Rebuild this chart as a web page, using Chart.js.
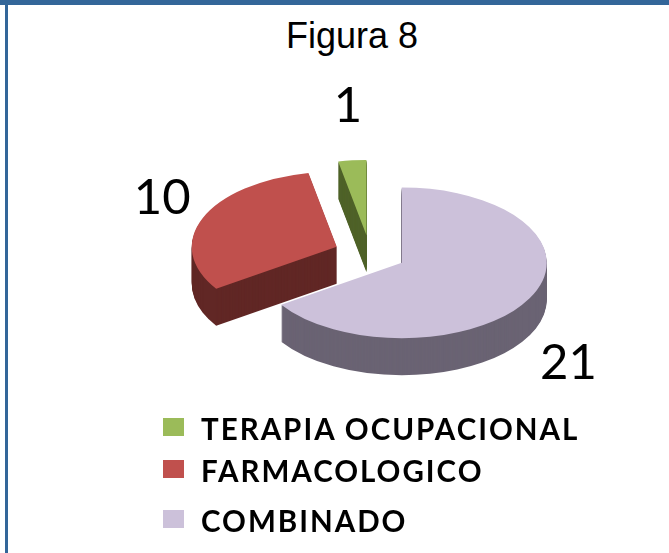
<!DOCTYPE html>
<html>
<head>
<meta charset="utf-8">
<title>Figura 8</title>
<script src="https://cdn.jsdelivr.net/npm/chart.js@4/dist/chart.umd.min.js"></script>
<style>
  html, body { margin: 0; padding: 0; background: #fff; overflow: hidden; }
  #page { position: relative; width: 669px; height: 553px; background: #fff; }
  .bar-top { position: absolute; left: 0; top: 0; width: 669px; height: 5px; background: #336699; }
  .bar-left { position: absolute; left: 5px; top: 0; width: 3px; height: 553px; background: #336699; }
  #title {
    position: absolute; left: 252px; top: 18px; width: 200px;
    text-align: center; font: 36px/36px "Liberation Sans", Arial, sans-serif; color: #000;
  }
  #chart { position: absolute; left: 0; top: 0; }
  #legend { position: absolute; left: 163px; top: 408px; }
  .row { position: relative; height: 42px; font: bold 29.5px/42px Lato, sans-serif; letter-spacing: 2px; color: #000; white-space: nowrap; }
  .row:nth-child(3) { margin-top: 8px; }
  .swatch { position: absolute; left: 0; top: 10px; width: 21px; height: 18px; }
  .text { position: absolute; left: 38px; top: 0; }
</style>
</head>
<body>
<div id="page">
  <div class="bar-top"></div>
  <div class="bar-left"></div>
  <div id="title">Figura 8</div>
  <canvas id="chart" width="669" height="553"></canvas>
  <div id="legend"></div>
</div>
<script>
(function () {
    'use strict';

    // Legend order, as in the figure.
    var categories = ['TERAPIA OCUPACIONAL', 'FARMACOLOGICO', 'COMBINADO'];
    var values = [1, 10, 21];
    var topColors = ['#9BBB59', '#C0504D', '#CCC1DA'];
    var sideColors = ['#4F6228', '#612725', '#6A6373'];

    // Pie is drawn clockwise from the top: COMBINADO first.
    var pieLabels = categories.slice().reverse();
    var pieValues = values.slice().reverse();
    var pieTop = topColors.slice().reverse();
    var pieSide = sideColors.slice().reverse();

    var TILT = 0.52;     // vertical squash of the pie
    var DEPTH = 37;      // thickness in screen px
    var EXPLODE = 36;    // slice pull-out

    function place(ctx, p, mid, dz) {
        ctx.translate(0, p.y + dz);
        ctx.scale(1, TILT);
        ctx.translate(0, -p.y);
        ctx.translate(Math.cos(mid) * EXPLODE, Math.sin(mid) * EXPLODE);
    }

    var pie3d = {
        id: 'pie3d',
        beforeDatasetDraw: function (chart, args) {
            var ctx = chart.ctx;
            var arcs = args.meta.data;
            var order = arcs.map(function (a, i) { return i; });
            // back slices first
            order.sort(function (a, b) {
                var ma = (arcs[a].startAngle + arcs[a].endAngle) / 2;
                var mb = (arcs[b].startAngle + arcs[b].endAngle) / 2;
                return Math.sin(ma) - Math.sin(mb);
            });
            order.forEach(function (i) {
                var arc = arcs[i];
                var p = arc.getProps(['x', 'y', 'startAngle', 'endAngle', 'outerRadius']);
                var mid = (p.startAngle + p.endAngle) / 2;
                ctx.fillStyle = pieSide[i];
                for (var dz = DEPTH; dz > 0; dz--) {
                    ctx.save();
                    place(ctx, p, mid, dz);
                    ctx.beginPath();
                    ctx.moveTo(p.x, p.y);
                    ctx.arc(p.x, p.y, p.outerRadius, p.startAngle, p.endAngle);
                    ctx.closePath();
                    ctx.fill();
                    ctx.restore();
                }
                ctx.save();
                place(ctx, p, mid, 0);
                arc.draw(ctx);
                ctx.restore();
            });
            return false;
        },
        afterDatasetsDraw: function (chart) {
            var ctx = chart.ctx;
            var meta = chart.getDatasetMeta(0);
            ctx.save();
            ctx.font = '49px Lato, sans-serif';
            ctx.fillStyle = '#000';
            ctx.textAlign = 'center';
            ctx.textBaseline = 'alphabetic';
            meta.data.forEach(function (arc, i) {
                var p = arc.getProps(['x', 'y', 'startAngle', 'endAngle', 'outerRadius']);
                var mid = (p.startAngle + p.endAngle) / 2;
                var lx = p.x + Math.cos(mid) * (p.outerRadius + 80);
                var ly = p.y + Math.sin(mid) * (p.outerRadius * TILT + 75);
                if (Math.sin(mid) > 0) ly += DEPTH;
                ctx.fillText(String(pieValues[i]), lx, ly + 17.5);
            });
            ctx.restore();
        }
    };

    new Chart(document.getElementById('chart'), {
        type: 'pie',
        data: {
            labels: pieLabels,
            datasets: [{
                data: pieValues,
                backgroundColor: pieTop,
                borderWidth: 0,
                clip: false
            }]
        },
        options: {
            responsive: false,
            animation: false,
            events: [],
            radius: 145,
            layout: { padding: { left: 71, right: 0, top: 0, bottom: 45 } },
            plugins: {
                legend: { display: false },
                title: { display: false },
                tooltip: { enabled: false }
            }
        },
        plugins: [pie3d]
    });

    // Legend, same order as the figure.
    var legend = document.getElementById('legend');
    categories.forEach(function (name, i) {
        var row = document.createElement('div');
        row.className = 'row';
        var sw = document.createElement('span');
        sw.className = 'swatch';
        sw.style.background = topColors[i];
        var tx = document.createElement('span');
        tx.className = 'text';
        tx.textContent = name;
        row.appendChild(sw);
        row.appendChild(tx);
        legend.appendChild(row);
    });
})();
</script>
</body>
</html>
